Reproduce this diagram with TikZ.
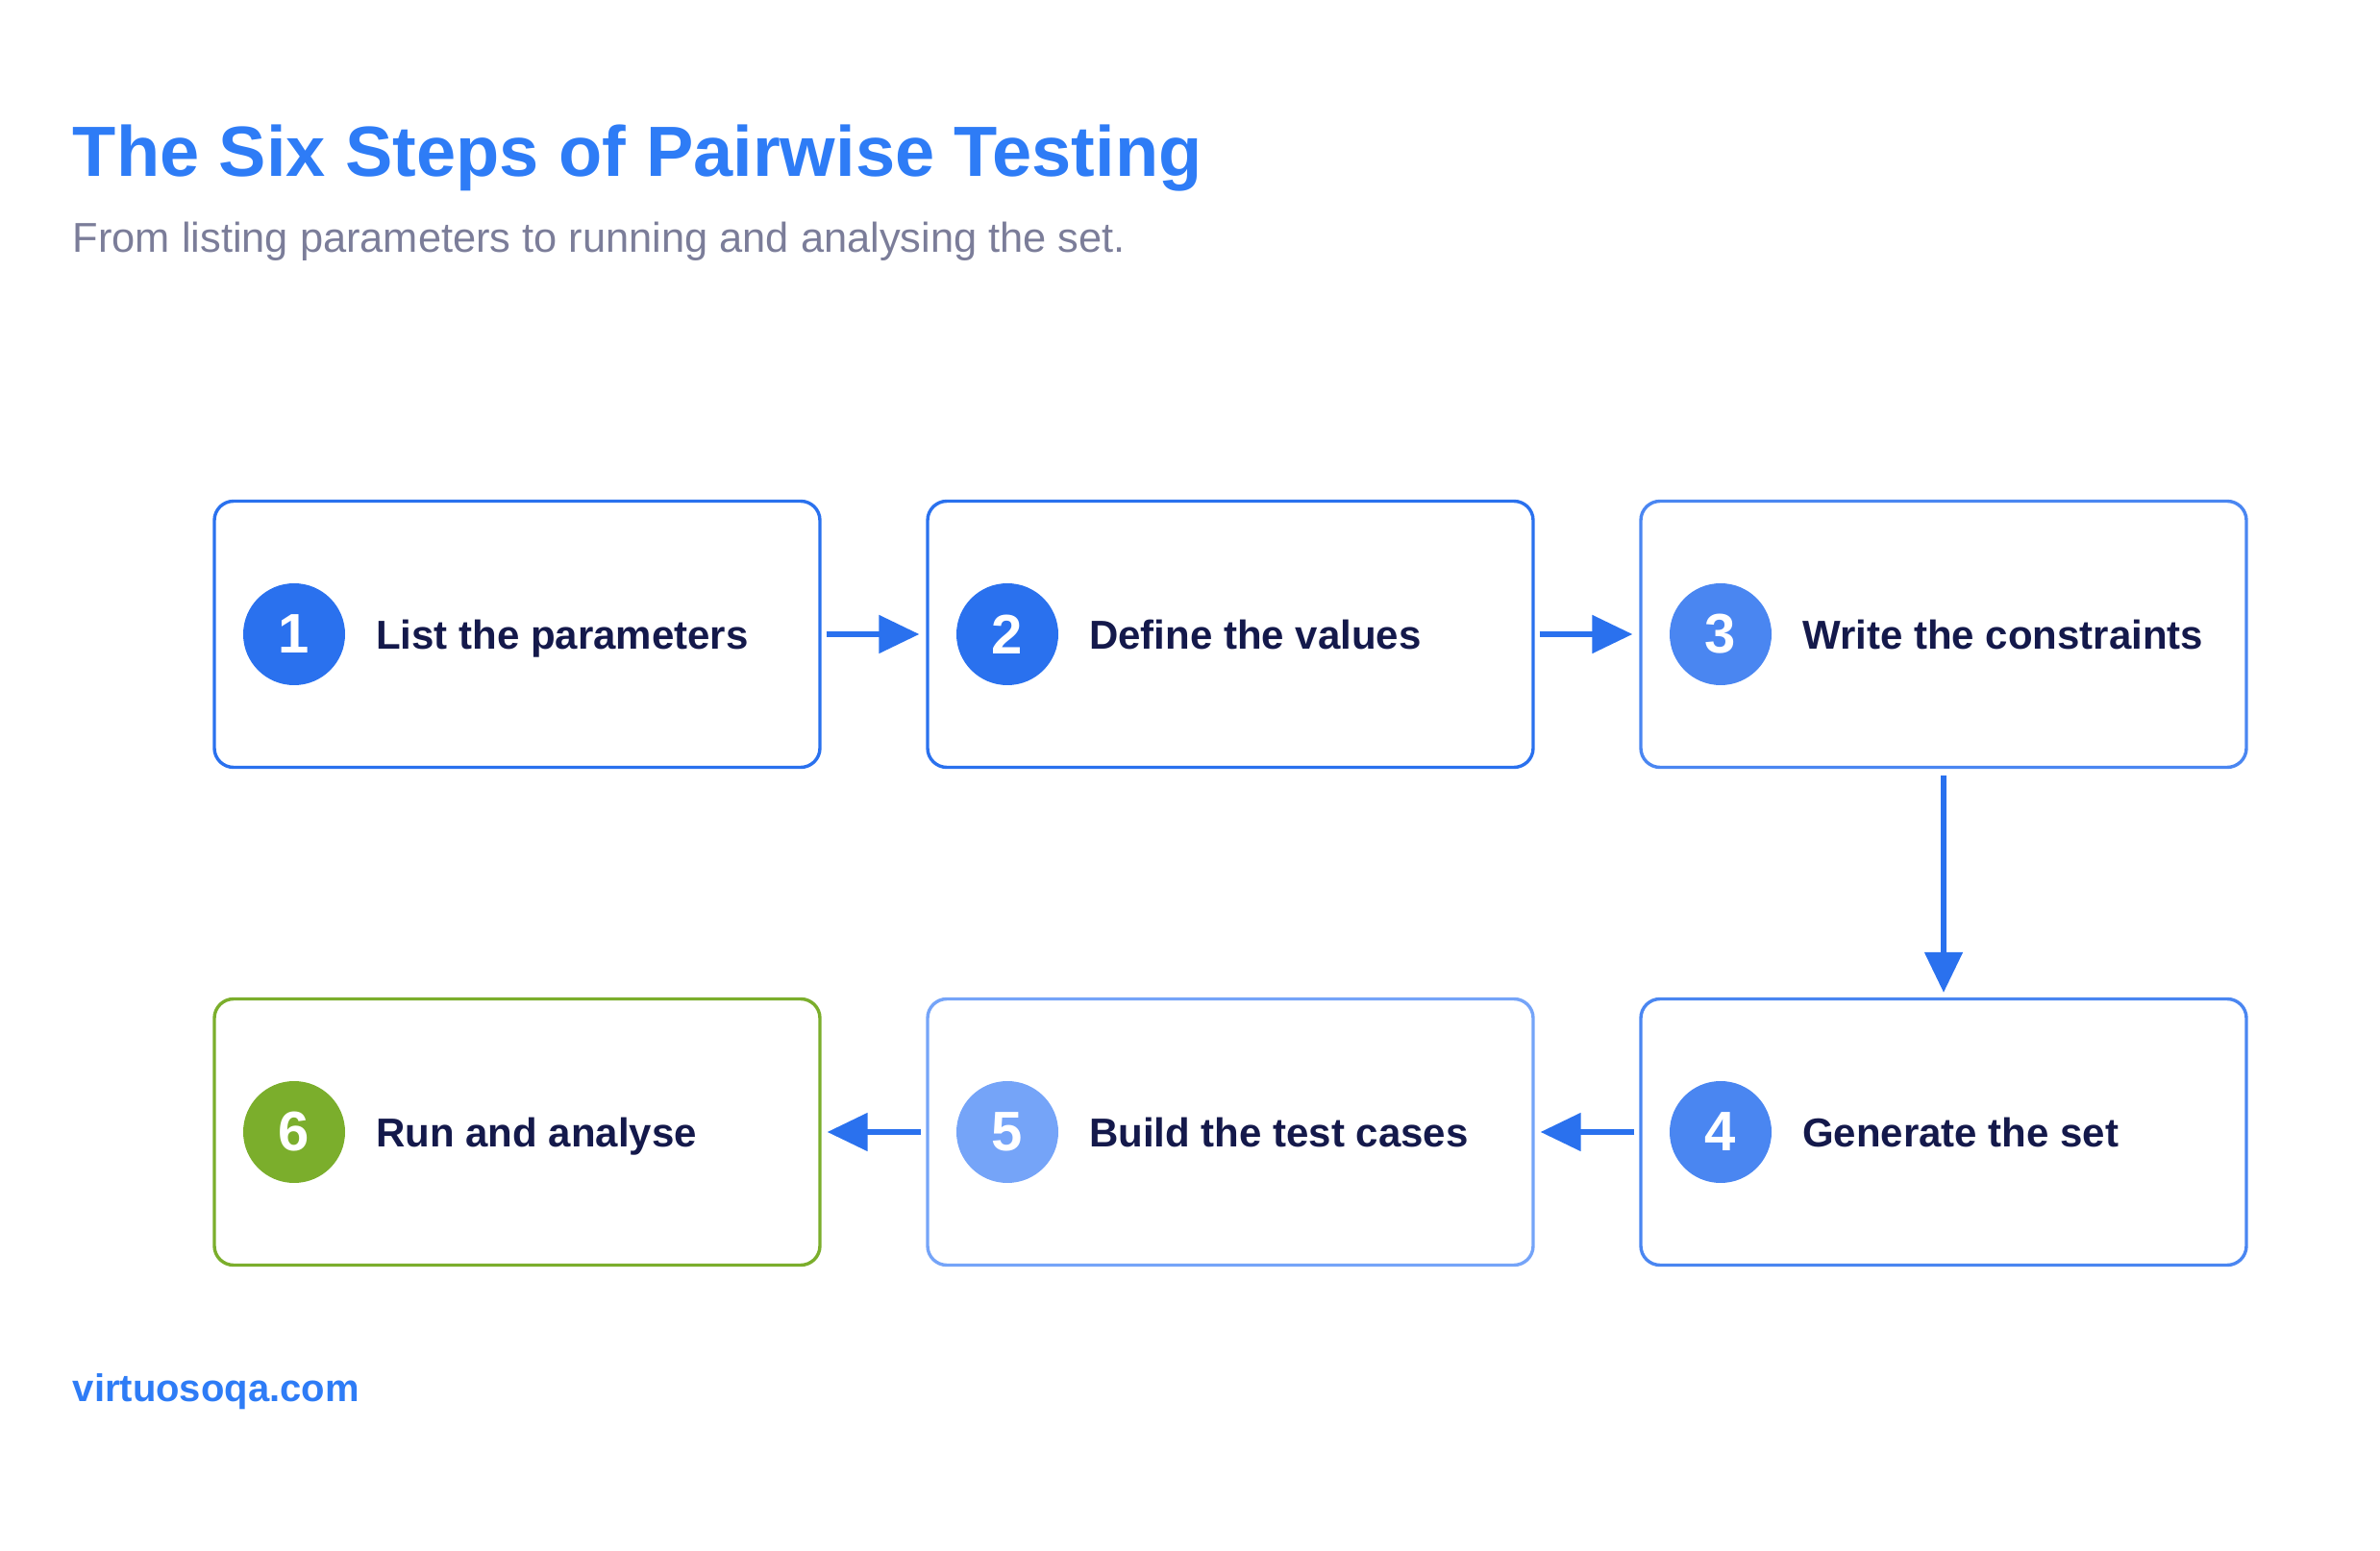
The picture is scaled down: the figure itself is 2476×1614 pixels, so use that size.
\documentclass[tikz,border=0pt]{standalone}
\usepackage{fontspec}
\setmainfont{Liberation Sans}
\usetikzlibrary{positioning,arrows.meta}
\definecolor{headblue}{HTML}{2E7CF6}
\definecolor{stepA}{HTML}{2A71EE}
\definecolor{stepB}{HTML}{4A86F1}
\definecolor{stepC}{HTML}{75A4F8}
\definecolor{stepD}{HTML}{7BAE2C}
\definecolor{navy}{HTML}{14194B}
\definecolor{subgray}{HTML}{7B7D99}
\tikzstyle{stepbox}=[draw,rounded corners=5pt,line width=0.85pt,minimum width=157.5pt,minimum height=69.25pt,inner sep=0]
\tikzstyle{num}=[circle,inner sep=0,minimum size=26.5pt,text=white,font=\fontsize{14.5}{16}\selectfont\bfseries]

\begin{document}
\begin{tikzpicture}[x=0.25pt,y=-0.25pt,
    lbl/.style={anchor=base west,text=navy,font=\fontsize{10.5}{12}\selectfont\bfseries},
    flow/.style={-{Triangle[length=10.5pt,width=9.75pt]},line width=1.3pt,draw=stepA}
    ]

    \useasboundingbox (0,0) rectangle (2476,1614);

    % heading
    \node[anchor=base west,inner sep=0,text=headblue,font=\fontsize{18.5}{22}\selectfont\bfseries] (title) at (75,184) {The Six Steps of Pairwise Testing};
    \node[anchor=base west,inner sep=0,text=subgray,font=\fontsize{10.85}{12}\selectfont] (sub) at (75,263) {From listing parameters to running and analysing the set.};

    % steps
    \foreach \n/\x/\y/\c/\t in {1/538/660/stepA/List the parameters,
        2/1280/660/stepA/Define the values,
        3/2022/660/stepB/Write the constraints,
        4/2022/1178/stepB/Generate the set,
        5/1280/1178/stepC/Build the test cases,
        6/538/1178/stepD/Run and analyse} {
      \node[stepbox,draw=\c] (b\n) at (\x,\y) {};
      \node[num,fill=\c] (c\n) at (\x-232,\y) {\n};
      \node[lbl] (t\n) at (\x-161,\y+16) {\t};
    }

    % connectors
    \draw[flow,shorten <=1.25pt,shorten >=1.75pt] (b1) -- (b2);
    \draw[flow,shorten <=1.25pt,shorten >=1.75pt] (b2) -- (b3);
    \draw[flow,shorten <=1.75pt,shorten >=1.25pt] (b3) -- (b4);
    \draw[flow,shorten <=1.25pt,shorten >=1.5pt] (b4) -- (b5);
    \draw[flow,shorten <=1.25pt,shorten >=1.5pt] (b5) -- (b6);

    % footer
    \node[anchor=base west,inner sep=0,text=headblue,font=\fontsize{10}{12}\selectfont\bfseries] (site) at (75,1458) {virtuosoqa.com};

\end{tikzpicture}
\end{document}
